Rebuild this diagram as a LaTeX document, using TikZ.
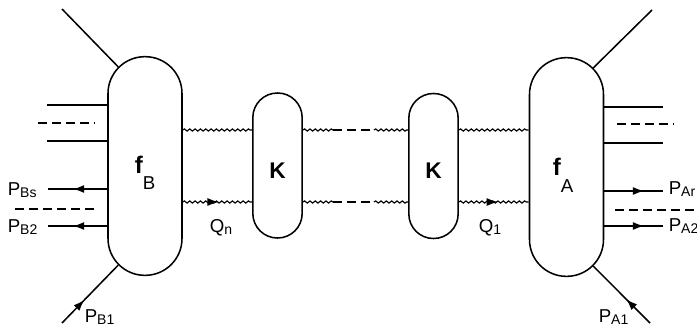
\documentclass[tikz,border=0pt]{standalone}
\usepackage{fontspec}
\setmainfont{Liberation Sans}
\usetikzlibrary{decorations.pathmorphing,decorations.markings,arrows.meta}
\newcommand\lowsub[1]{\raisebox{-2pt}{\fontsize{10.5}{10.5}\selectfont #1}}

\begin{document}
\begin{tikzpicture}[x = 0.75pt, y = -0.75pt, line width = 1.15pt,
    blob/.style = {draw, minimum width = 55.5pt, minimum height = 164pt, rounded corners = 27.6pt},
    kblob/.style = {draw, minimum width = 37pt, minimum height = 108.75pt, rounded corners = 18.4pt,
        font = \fontsize{17}{17}\selectfont\bfseries, text height = 19pt},
    lbl/.style = {inner sep = 0pt, anchor = base west, font = \fontsize{14}{14}\selectfont},
    wavy/.style = {line width = 0.85pt, decorate, decoration = {snake, segment length = 4pt, amplitude = 0.8pt}},
    dash line/.style = {dash pattern = on 7pt off 3.5pt},
    midtip/.style = {postaction = {decorate, decoration = {markings,
        mark = at position #1 with {\arrow{Latex[length = 8.5pt, width = 6pt]}}}}}]
    \useasboundingbox (0,0) rectangle (697,330);

    \node[blob] (fB) at (145,166) {};
    \node[kblob] (K1) at (277.5,165.5) {K};
    \node[kblob] (K2) at (433.5,166) {K};
    \node[blob] (fA) at (566.5,167) {};
    \node[lbl] (fBtxt) at (134,173) {{\fontsize{18}{18}\selectfont\bfseries f}\raisebox{-12pt}{B}};
    \node[lbl] (fAtxt) at (552,175) {{\fontsize{18}{18}\selectfont\bfseries f}\raisebox{-12.75pt}{A}};

    \coordinate (up1) at (333,130);
    \coordinate (up2) at (374,130);
    \coordinate (lo1) at (333,202);
    \coordinate (lo2) at (374,202);
    \draw[wavy] (fB.east |- up1) -- (K1.west |- up1);
    \draw[wavy] (K1.east |- up1) -- (up1);
    \draw[dash line] (up1) -- (up2);
    \draw[wavy] (up2) -- (K2.west |- up2);
    \draw[wavy] (K2.east |- up1) -- (fA.west |- up1);
    \draw[wavy] (fB.east |- lo1) -- (K1.west |- lo1);
    \path[midtip = 0.52] (fB.east |- lo1) -- (K1.west |- lo1);
    \draw[wavy] (K1.east |- lo1) -- (lo1);
    \draw[dash line] (lo1) -- (lo2);
    \draw[wavy] (lo2) -- (K2.west |- lo2);
    \draw[wavy] (K2.east |- lo1) -- (fA.west |- lo1);
    \path[midtip = 0.56] (K2.east |- lo1) -- (fA.west |- lo1);
    \node[lbl] (Qn) at (209,232) {Q\lowsub{n}};
    \node[lbl] (Q1) at (478,232) {Q\lowsub{1}};

    \coordinate (tl) at (62,9);
    \coordinate (bl) at (62,323);
    \coordinate (tr) at (652,10);
    \coordinate (br) at (650,323);
    \draw (tl) -- ([shift = {(11,11)}]fB.north west);
    \draw[midtip = 0.4] (bl) -- ([shift = {(11,-11)}]fB.south west);
    \draw (tr) -- ([shift = {(-11,11)}]fA.north east);
    \draw[midtip = 0.42] (br) -- ([shift = {(-11,-11)}]fA.south east);

    \coordinate (b1) at (47,105);
    \coordinate (b2) at (47,141);
    \coordinate (bd1) at (38,123);
    \coordinate (bd2) at (95,123);
    \coordinate (pbs) at (48,189);
    \coordinate (bd3) at (15,209);
    \coordinate (bd4) at (97,209);
    \coordinate (pb2) at (48,226);
    \draw (b1) -- (b1 -| fB.west);
    \draw (b2) -- (b2 -| fB.west);
    \draw[dash line] (bd1) -- (bd2);
    \draw[midtip = 0.58] (pbs -| fB.west) -- (pbs);
    \draw[dash line] (bd3) -- (bd4);
    \draw[midtip = 0.58] (pb2 -| fB.west) -- (pb2);
    \node[lbl] (PBs) at (7,195) {P\lowsub{Bs}};
    \node[lbl] (PB2) at (7,232) {P\lowsub{B2}};
    \node[lbl] (PB1) at (84,322) {P\lowsub{B1}};

    \coordinate (a1) at (663,107);
    \coordinate (a2) at (663,143);
    \coordinate (ad1) at (617,124);
    \coordinate (ad2) at (674,124);
    \coordinate (par) at (663,191);
    \coordinate (ad3) at (615,210);
    \coordinate (ad4) at (697,210);
    \coordinate (pa2) at (663,226);
    \draw (a1 -| fA.east) -- (a1);
    \draw (a2 -| fA.east) -- (a2);
    \draw[dash line] (ad1) -- (ad2);
    \draw[midtip = 0.68] (par -| fA.east) -- (par);
    \draw[dash line] (ad3) -- (ad4);
    \draw[midtip = 0.68] (pa2 -| fA.east) -- (pa2);
    \node[lbl] (PAr) at (668,194) {P\lowsub{Ar}};
    \node[lbl] (PA2) at (668,231) {P\lowsub{A2}};
    \node[lbl] (PA1) at (598,322) {P\lowsub{A1}};
\end{tikzpicture}
\end{document}
